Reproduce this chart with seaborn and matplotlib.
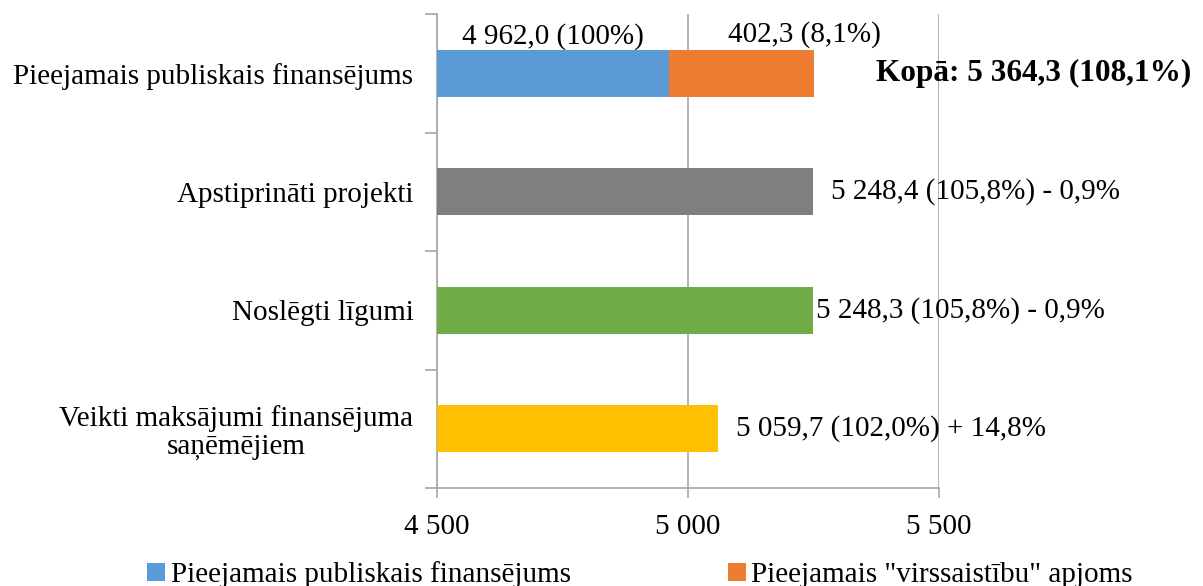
import matplotlib
matplotlib.use("Agg")
import matplotlib.pyplot as plt
from matplotlib.patches import Patch
import seaborn as sns
import pandas as pd

# ---- data ----
categories = [
    "Pieejamais publiskais finansējums",
    "Apstiprināti projekti",
    "Noslēgti līgumi",
    "Veikti maksājumi finansējuma\nsaņēmējiem",
]
public_funding = [4962.0]          # blue segment (first row)
over_commit = [288.0]              # orange segment as drawn (first row)
other_values = [5248.4, 5248.3, 5059.7]  # rows 2-4

series_names = ["Pieejamais publiskais finansējums", "Pieejamais \"virssaistību\" apjoms"]
label_blue = "4 962,0 (100%)"
label_orange = "402,3 (8,1%)"
label_total = "Kopā: 5 364,3 (108,1%)"
row_labels = ["5 248,4 (105,8%) - 0,9%", "5 248,3 (105,8%) - 0,9%", "5 059,7 (102,0%) + 14,8%"]
xticks = [4500, 5000, 5500]
xtick_labels = ["4 500", "5 000", "5 500"]

# ---- colours ----
c_blue = "#5B9BD5"
c_orange = "#ED7D31"
c_gray = "#7F7F7F"
c_green = "#70AD47"
c_yellow = "#FFC000"
c_axis = "#A6A6A6"

sns.set_theme(style="white")
FAMILY = ["Liberation Serif", "DejaVu Serif"]
plt.rcParams["font.family"] = FAMILY
plt.rcParams["font.serif"] = FAMILY
plt.rcParams["text.color"] = "black"
FS = 21

fig = plt.figure(figsize=(12.03, 5.86), dpi=100)
ax = fig.add_axes([437 / 1203, 98 / 586, 502 / 1203, 474 / 586])

stack_total = public_funding[0] + over_commit[0]
df = pd.DataFrame({
    "cat": categories,
    "val": [stack_total] + other_values,
})
sns.barplot(data=df, x="val", y="cat", hue="cat", order=categories,
            palette=[c_orange, c_gray, c_green, c_yellow], legend=False,
            width=0.4, orient="h", ax=ax, saturation=1, zorder=3, linewidth=0)
df_blue = pd.DataFrame({"cat": [categories[0]], "val": public_funding})
sns.barplot(data=df_blue, x="val", y="cat", order=categories, color=c_blue,
            width=0.4, orient="h", ax=ax, saturation=1, zorder=4, linewidth=0)

ax.set_xlim(4500, 5500)
ax.set_ylim(3.5, -0.5)
ax.set_xlabel("")
ax.set_ylabel("")

# grid & spines
ax.set_axisbelow(True)
ax.xaxis.grid(True, color=c_axis, linewidth=1.2)
ax.yaxis.grid(False)
for s in ["top", "right"]:
    ax.spines[s].set_visible(False)
for s in ["left", "bottom"]:
    ax.spines[s].set_color(c_axis)
    ax.spines[s].set_linewidth(1.2)

ax.set_xticks(xticks)
ax.set_xticklabels(xtick_labels, fontsize=FS)
ax.tick_params(axis="x", direction="out", length=7, width=1.2, color=c_axis,
               bottom=True, pad=12, labelcolor="black")

ax.set_yticks(range(len(categories)))
ax.set_yticklabels(categories, fontsize=FS, multialignment="center", linespacing=1.05)
ax.tick_params(axis="y", which="major", length=0, pad=17, labelcolor="black")
ax.set_yticks([i - 0.5 for i in range(len(categories) + 1)], minor=True)
ax.tick_params(axis="y", which="minor", direction="out", length=9, width=1.2,
               color=c_axis, left=True)

# value labels
ax.annotate(label_blue, xy=((4500 + public_funding[0]) / 2, -0.2), xytext=(0, 0),
            textcoords="offset pixels", ha="center", va="bottom", fontsize=FS)
ax.annotate(label_orange, xy=(stack_total, -0.2), xytext=(-9, 2),
            textcoords="offset pixels", ha="center", va="bottom", fontsize=FS,
            annotation_clip=False)
ax.annotate(label_total, xy=(stack_total, 0), xytext=(63, 0),
            textcoords="offset pixels", ha="left", va="center", fontsize=22.5,
            fontweight="bold", annotation_clip=False)
offsets = [18, 3, 18]
for i, (v, lab, off) in enumerate(zip(other_values, row_labels, offsets)):
    ax.annotate(lab, xy=(v, i + 1), xytext=(off, 0), textcoords="offset pixels",
                ha="left", va="center", fontsize=FS, annotation_clip=False, zorder=5)

handles = [Patch(facecolor=c_blue, edgecolor="none"), Patch(facecolor=c_orange, edgecolor="none")]
leg = fig.legend(handles, series_names, loc="center", bbox_to_anchor=(640 / 1203, 0.019), ncol=2,
                 frameon=False, fontsize=FS,
                 handlelength=0.6, handleheight=0.6,
                 handletextpad=0.2, columnspacing=5.4, borderpad=0)
for t in leg.get_texts():
    t.set_fontfamily(FAMILY)
    t.set_fontsize(FS)
    t.set_color("black")

fig.savefig("out.png", dpi=100)
